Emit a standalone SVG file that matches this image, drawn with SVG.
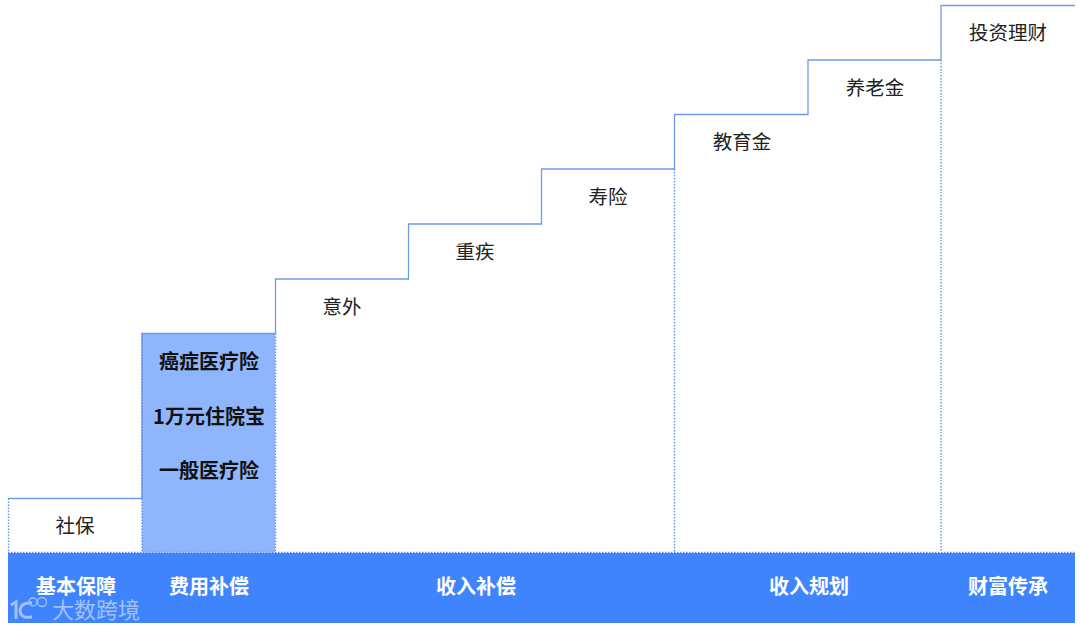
<svg xmlns="http://www.w3.org/2000/svg" width="1080" height="629" viewBox="0 0 1080 629">
<style>
text{font-family:"Noto Sans CJK SC","Liberation Sans",sans-serif;text-anchor:middle}
.n{font-size:19.500px;fill:#222}
.b{font-size:20px;font-weight:700;fill:#111}
.h{font-size:20px;font-weight:700;fill:#fff}
.s{fill:none;stroke:#6f9ce6;stroke-width:1.300}
.d{fill:none;stroke:#5f8fe6;stroke-width:1.300;stroke-dasharray:1.500 1.500}
</style>
<rect width="1080" height="629" fill="#fff"/>
<g id="medical-fill"><rect x="142" y="333.500" width="133" height="219" fill="#8fb5fd"/></g>
<g id="connectors">
<path class="s" d="M8.500 498.500H142M142 498.500V333.500H275.500V279H408.500V224H541.500V169H674.500V114.500H808V60H941V5.500H1075"/>
<path class="d" d="M8.500 498.500V552M142 333.500V552M275.500 333.500V552M674.500 169V552M941 60V552M8 552.500H1075"/>
</g>
<g id="band"><rect x="8" y="553" width="1067" height="70" fill="#3f84fd"/></g>
<g id="node-shebao"><text class="n" x="75" y="533">社保</text></g>
<g id="node-cancer"><text class="b" x="209" y="369">癌症医疗险</text></g>
<g id="node-zhuyuan"><text class="b" x="209" y="424">1万元住院宝</text></g>
<g id="node-yiban"><text class="b" x="209" y="478">一般医疗险</text></g>
<g id="node-yiwai"><text class="n" x="342" y="314">意外</text></g>
<g id="node-zhongji"><text class="n" x="475" y="259">重疾</text></g>
<g id="node-shouxian"><text class="n" x="608" y="204">寿险</text></g>
<g id="node-jiaoyu"><text class="n" x="742" y="149">教育金</text></g>
<g id="node-yanglao"><text class="n" x="875" y="95">养老金</text></g>
<g id="node-touzi"><text class="n" x="1008" y="40">投资理财</text></g>
<g id="head-1"><text class="h" x="76" y="594">基本保障</text></g>
<g id="head-2"><text class="h" x="209" y="594">费用补偿</text></g>
<g id="head-3"><text class="h" x="476" y="594">收入补偿</text></g>
<g id="head-4"><text class="h" x="809" y="594">收入规划</text></g>
<g id="head-5"><text class="h" x="1008" y="594">财富传承</text></g>
<g id="watermark" opacity="0.72">
<path d="M11 605L16 602V619" fill="none" stroke="#c9daf5" stroke-width="3"/>
<path d="M32 603Q21 602 20 610Q20 619 32 617" fill="none" stroke="#c9daf5" stroke-width="3"/>
<circle cx="33" cy="602" r="4" fill="none" stroke="#c9daf5" stroke-width="1.300"/>
<circle cx="42" cy="602" r="4.500" fill="none" stroke="#c9daf5" stroke-width="1.300"/>
<text x="96" y="618" font-size="22" style="fill:#c9daf5">大数跨境</text>
</g>
</svg>
